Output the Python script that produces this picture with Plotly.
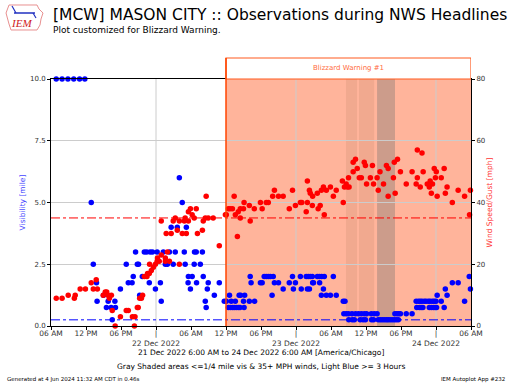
import pandas as pd
import plotly.graph_objects as go

START = pd.Timestamp("2022-12-21 06:00")

# ---- Visibility observations (hours after 21 Dec 06:00, miles) ----
vis_hours = [
    0.9, 1.9, 2.9, 3.9, 4.9, 5.8,
    22.0,
    6.9, 22.5,
    20.6, 21.65, 23.2,
    14.5, 16.0, 16.4, 17.0, 17.4, 18.2, 19.25, 20.3, 21.3, 22.85, 24.6, 24.9, 25.95,
    7.25, 12.9, 14.8, 15.0, 19.6, 19.95, 20.95, 23.0, 24.55, 25.6,
    14.1, 15.65, 23.55, 24.2, 26.1, 34.15, 36.55, 36.9, 37.25, 37.6, 38.1, 41.4, 42.75,
    43.75, 44.1, 44.45, 44.8, 45.65, 46.0, 46.4, 46.85, 48.4, 71.7,
    7.8, 13.25, 13.9, 16.85, 18.75, 23.5, 24.95, 26.95, 28.85, 34.3, 35.9, 36.2, 38.3,
    39.0, 40.85, 41.9, 44.85, 45.0, 46.05, 68.8, 69.8,
    11.9, 17.9, 23.9, 26.8, 39.8, 41.55, 42.9, 43.95, 44.3, 46.7, 67.6, 71.9,
    9.0, 15.2, 28.0, 30.6, 32.25, 32.5, 33.2, 37.9, 46.35, 47.2, 47.9, 48.9, 66.2, 67.9,
    7.9, 9.8, 10.95, 18.9, 26.45, 29.7, 30.05, 30.9, 31.6, 33.0, 34.0, 34.9, 50.1, 50.4,
    62.6, 63.0, 63.3, 63.6, 64.0, 64.3, 64.7, 65.0, 65.4, 65.7, 66.0, 66.9, 70.9,
    9.5, 10.3, 11.05, 26.6, 30.4, 30.75, 31.1, 31.4, 31.75, 32.1, 32.4, 33.1,
    62.7, 63.15, 63.45, 63.75, 64.85, 65.2, 65.55, 65.85, 66.1, 67.4,
    50.2, 50.6, 51.0, 51.6, 52.2, 52.7, 53.2, 53.7, 54.1, 54.9, 55.4, 55.9,
    58.95, 59.3, 59.6, 59.9, 60.9, 61.9,
    10.5, 51.05, 51.65, 52.0, 53.0, 53.5, 53.9, 54.95, 55.3, 56.1, 56.45, 56.8,
    57.15, 57.5, 57.8, 58.15, 58.5, 58.85, 59.2, 59.55,
]
vis_miles = (
    [10.0] * 6 + [6.0] + [5.0] * 2 + [4.0] * 3 + [3.0] * 13 + [2.5] * 10
    + [2.0] * 23 + [1.75] * 21 + [1.5] * 12 + [1.25] * 14 + [1.0] * 27
    + [0.75] * 22 + [0.5] * 18 + [0.25] * 20
)

# ---- Wind speed / gust observations (hours after 21 Dec 06:00, mph) ----
wind_hours = [
    0.9, 1.9, 2.95, 4.0, 4.15, 5.0, 5.9, 6.9, 7.25, 7.75, 7.95, 8.95, 9.3, 9.55, 9.8,
    10.0, 10.35, 10.5, 11.0, 11.9, 12.9, 13.25, 13.95, 14.3, 14.4, 14.8, 14.95, 15.2,
    15.5, 15.7, 16.0, 16.45, 16.55, 16.85, 16.9, 17.2, 17.55, 17.9, 18.2, 18.25, 18.55,
    18.9, 18.9, 19.6, 19.6, 19.75, 19.95, 20.3, 20.6, 20.95, 21.3, 21.65, 22.0, 22.0,
    22.5, 22.85, 23.0, 23.2, 23.55, 23.55, 23.9, 24.2, 24.55, 24.9, 25.1, 25.95, 26.1,
    26.45, 26.6, 26.95, 27.8, 28.85, 29.9,
    30.05, 30.4, 30.7, 31.1, 31.4, 31.6, 31.95, 32.1, 32.45, 32.45, 33.0, 33.1, 34.0,
    34.15, 34.85, 35.9, 36.2, 36.9, 37.25, 38.0, 38.3, 39.0, 39.8, 40.85, 41.4, 41.9,
    42.75, 43.0, 43.75, 43.95, 43.95, 44.3, 44.45, 44.8, 44.85, 45.65, 45.8, 46.15,
    46.35, 46.7, 46.85, 47.2, 47.9, 48.4, 48.9, 49.95, 50.1, 50.3, 50.6, 51.0,
    50.8, 51.1, 51.8, 51.8, 52.2, 52.5, 52.85, 53.2, 53.7, 53.9, 54.1, 54.75, 55.1,
    55.3, 55.9, 56.1, 56.4, 57.0, 57.5, 57.8, 57.8, 58.7, 58.85, 59.0, 59.4, 59.9,
    60.9, 61.9, 62.6, 62.8, 62.8, 63.3, 63.6, 63.8, 64.5, 64.85, 65.0, 65.2, 65.4,
    65.7, 65.9, 66.05, 66.2, 66.9, 67.4, 67.6, 67.9, 68.8, 69.8, 70.9, 71.75, 71.9,
]
wind_mph = [
    9, 9, 10, 9, 10, 12, 12, 14, 12, 15, 12, 10, 11, 11, 10,
    9, 10, 5, 0, 3, 5, 5, 3, 0, 3, 6, 6, 9,
    9, 10, 16, 16, 17, 17, 20, 18, 19, 20, 21, 22, 21,
    23, 34, 21, 22, 30, 24, 21, 30, 34, 35, 31, 34, 20,
    30, 34, 35, 30, 34, 37, 38, 36, 35, 38, 30, 31, 34,
    35, 42, 35, 35, 26, 36,
    36, 38, 38, 38, 42, 36, 29, 37, 38, 35, 38, 40, 39,
    34, 38, 40, 38, 40, 40, 42, 44, 42, 42, 38, 44, 39,
    40, 40, 37, 47, 40, 44, 43, 39, 42, 43, 38, 39,
    44, 45, 36, 44, 45, 42, 44, 47, 40, 45, 46, 48,
    45, 45, 53, 50, 54, 51, 48, 48, 53, 52, 46, 48, 52,
    46, 48, 44, 50, 46, 52, 51, 42, 48, 53, 43, 54, 50,
    46, 50, 46, 57, 48, 45, 56, 50, 46, 45, 47, 43, 46,
    51, 48, 50, 42, 48, 51, 43, 45, 40, 44, 42, 36, 44,
]

# ---- Headline / shading periods (hours after start) ----
warning_start_h, warning_end_h = 30.0, 72.0
gray_bands_h = [(50.57, 52.46), (52.8, 55.4)]
long_band_h = [(55.9, 58.97)]
vis_threshold = 0.25
wind_threshold = 35

x_tick_hours = list(range(0, 73, 6))
x_tick_text = ["06 AM", "12 PM", "06 PM", "|<br>22 Dec 2022", "06 AM", "12 PM", "06 PM",
               "|<br>23 Dec 2022", "06 AM", "12 PM", "06 PM", "|<br>24 Dec 2022", "06 AM"]


def t(h):
    return START + pd.Timedelta(hours=h)


vis_times = [t(h) for h in vis_hours]
wind_times = [t(h) for h in wind_hours]

W, H = 512, 384
L, R, T, B = 51, 471, 79, 326


def px(x):
    return (x - L) / (R - L)


def py(y):
    return (B - y) / (B - T)


FONT = "DejaVu Sans"
fig = go.Figure()
fig.add_trace(go.Scatter(x=vis_times, y=vis_miles, mode="markers",
                         marker=dict(color="blue", size=5.5), cliponaxis=False,
                         name="Visibility", showlegend=False))
fig.add_trace(go.Scatter(x=wind_times, y=wind_mph, mode="markers", yaxis="y2",
                         marker=dict(color="red", size=5.5), cliponaxis=False,
                         name="Wind", showlegend=False))

shapes = []
shapes.append(dict(type="rect", xref="x", yref="paper", x0=t(warning_start_h), x1=t(warning_end_h),
                   y0=0, y1=1, fillcolor="#FFB49B", line=dict(width=0), layer="below"))
for a, b in gray_bands_h:
    shapes.append(dict(type="rect", xref="x", yref="paper", x0=t(a), x1=t(b), y0=0, y1=1,
                       fillcolor="#F1A98F", line=dict(width=0), layer="below"))
for a, b in long_band_h:
    shapes.append(dict(type="rect", xref="x", yref="paper", x0=t(a), x1=t(b), y0=0, y1=1,
                       fillcolor="#CC9C8B", line=dict(width=0), layer="below"))
for h in (18, 42, 66):
    shapes.append(dict(type="line", xref="x", yref="paper", x0=t(h), x1=t(h), y0=0, y1=1,
                       line=dict(color="#cccccc", width=1), layer="below"))
# threshold lines
shapes.append(dict(type="line", xref="paper", yref="y2", x0=0, x1=1, y0=wind_threshold,
                   y1=wind_threshold, line=dict(color="red", width=1, dash="dashdot")))
shapes.append(dict(type="line", xref="paper", yref="y", x0=0, x1=1, y0=vis_threshold,
                   y1=vis_threshold, line=dict(color="blue", width=1, dash="dashdot")))
# headline label box and left edge
shapes.append(dict(type="rect", xref="x", yref="paper", x0=t(warning_start_h), x1=t(warning_end_h),
                   y0=1, y1=py(58), fillcolor="white", line=dict(color="#FF5A1F", width=1.2)))
shapes.append(dict(type="line", xref="x", yref="paper", x0=t(warning_start_h), x1=t(warning_start_h),
                   y0=0, y1=py(58), line=dict(color="#FF4500", width=1.5)))
# logo outline
logo = [(9, 5), (37, 5), (39, 9), (43, 13), (41, 19), (40, 25), (37, 30), (11, 30), (9, 24), (6, 13)]
path = "M " + " L ".join(f"{px(x):.4f},{py(y):.4f}" for x, y in logo) + " Z"
shapes.append(dict(type="path", xref="paper", yref="paper", path=path,
                   line=dict(color="#E89090", width=1)))
shapes.append(dict(type="line", xref="paper", yref="paper", x0=px(14), x1=px(35), y0=py(13),
                   y1=py(13), line=dict(color="#2030C0", width=1.5)))
shapes.append(dict(type="line", xref="paper", yref="paper", x0=px(16), x1=px(12), y0=py(13),
                   y1=py(6), line=dict(color="#2030C0", width=1.2)))
shapes.append(dict(type="line", xref="paper", yref="paper", x0=px(33), x1=px(36), y0=py(13),
                   y1=py(18), line=dict(color="#2030C0", width=1.2)))

ann = [
    dict(text="[MCW] MASON CITY :: Observations during NWS Headlines", x=px(51), y=py(15),
         xanchor="left", yanchor="middle", font=dict(size=15.5, color="black", family=FONT)),
    dict(text="Plot customized for Blizzard Warning.", x=px(51), y=py(30), xanchor="left",
         yanchor="middle", font=dict(size=9, color="black", family=FONT)),
    dict(text="Blizzard Warning #1", x=px(348), y=py(67.5), xanchor="center", yanchor="middle",
         font=dict(size=7, color="#FF6B3D", family=FONT)),
    dict(text="21 Dec 2022 6:00 AM to 24 Dec 2022 6:00 AM [America/Chicago]", x=px(261), y=py(352.5),
         xanchor="center", yanchor="middle", font=dict(size=7.5, color="black", family=FONT)),
    dict(text="Gray Shaded areas <=1/4 mile vis & 35+ MPH winds, Light Blue >= 3 Hours", x=px(261),
         y=py(366.5), xanchor="center", yanchor="middle", font=dict(size=7.5, color="black", family=FONT)),
    dict(text="Generated at 4 Jun 2024 11:32 AM CDT in 0.46s", x=px(5), y=py(379), xanchor="left",
         yanchor="middle", font=dict(size=5.5, color="black", family=FONT)),
    dict(text="IEM Autoplot App #232", x=px(507), y=py(379), xanchor="right", yanchor="middle",
         font=dict(size=5.5, color="black", family=FONT)),
    dict(text="<i>IEM</i>", x=px(21), y=py(23), xanchor="center", yanchor="middle",
         font=dict(size=11, color="#D02020", family="Liberation Serif")),
]
for a in ann:
    a.update(xref="paper", yref="paper", showarrow=False)

fig.update_layout(
    width=W, height=H,
    margin=dict(l=L, r=W - R, t=T, b=H - B),
    plot_bgcolor="white", paper_bgcolor="white",
    font=dict(family=FONT, size=8, color="#333333"),
    shapes=shapes, annotations=ann, showlegend=False,
    xaxis=dict(type="date", range=[t(0), t(72)], tickvals=[t(h) for h in x_tick_hours],
               ticktext=x_tick_text, tickangle=0, showgrid=False, showline=True,
               linecolor="black", linewidth=1, mirror=True, ticks="outside", ticklen=3,
               tickcolor="black", tickfont=dict(size=7.5, color="#333333"), zeroline=False,
               ticklabelstandoff=-3),
    yaxis=dict(range=[0, 10], tickvals=[0, 2.5, 5, 7.5, 10],
               ticktext=["0.0", "2.5", "5.0", "7.5", "10.0"], showgrid=True, gridcolor="#cccccc",
               showline=True, linecolor="black", linewidth=1, ticks="outside", ticklen=3,
               tickcolor="black", zeroline=False, tickfont=dict(size=7, color="#333333"),
               title=dict(text="Visibility [mile]", font=dict(size=7.5, color="#4444FF"), standoff=3)),
    yaxis2=dict(range=[0, 80], tickvals=[0, 20, 40, 60, 80], overlaying="y", side="right",
                showgrid=False, showline=True, linecolor="black", linewidth=1, ticks="outside",
                ticklen=3, tickcolor="black", zeroline=False, tickfont=dict(size=7, color="#333333"),
                title=dict(text="Wind Speed/Gust [mph]", font=dict(size=7.5, color="#FF3333"), standoff=2)),
)
fig.write_html("out.html", post_script="document.body.style.margin='0';",
               config={"displayModeBar": False})
